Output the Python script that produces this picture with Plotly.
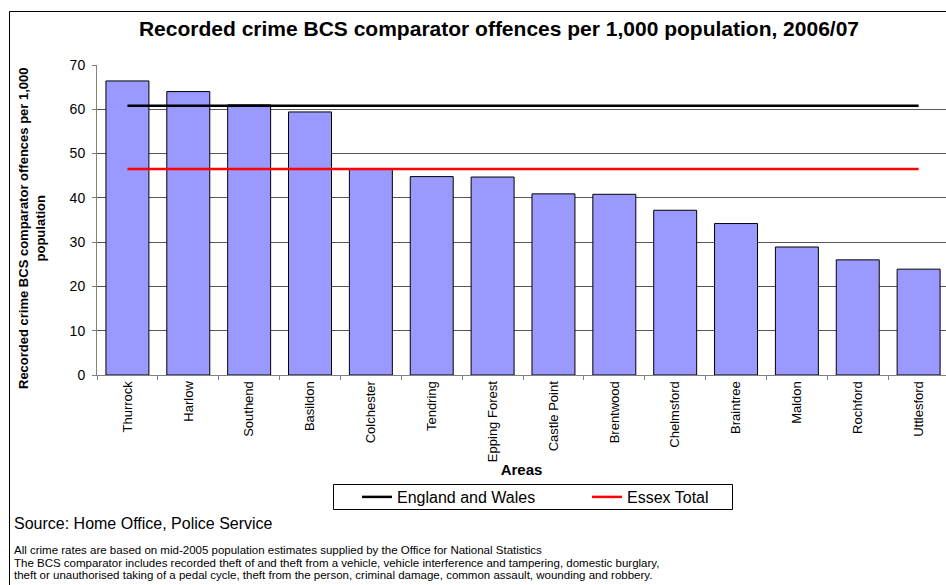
import plotly.graph_objects as go

# Recorded crime, BCS comparator offences per 1,000 population, 2006/07
areas = ["Thurrock", "Harlow", "Southend", "Basildon", "Colchester", "Tendring",
         "Epping Forest", "Castle Point", "Brentwood", "Chelmsford", "Braintree",
         "Maldon", "Rochford", "Uttlesford"]
rates = [66.4, 64.0, 61.0, 59.4, 46.5, 44.8, 44.7, 40.9, 40.8, 37.2, 34.2, 28.9, 26.0, 23.9]
england_wales = 60.8
essex_total = 46.5

W, H = 946, 585
ML, MR, MT, MB = 97, 0, 65, 210
PW, PH = W - ML - MR, H - MT - MB
FONT = "Liberation Sans, Arial, sans-serif"


def px_x(px):
    return (px - ML) / PW


def px_y(py):
    return (H - MB - py) / PH


fig = go.Figure()
fig.add_trace(go.Bar(
    x=areas, y=rates, showlegend=False,
    marker=dict(color="#9999FF", line=dict(color="#000000", width=1)),
))
fig.add_trace(go.Scatter(
    x=areas, y=[england_wales] * len(areas), mode="lines",
    name="England and Wales", line=dict(color="#000000", width=2.5),
))
fig.add_trace(go.Scatter(
    x=areas, y=[essex_total] * len(areas), mode="lines",
    name="Essex Total", line=dict(color="#FF0000", width=2.5),
))

fig.update_layout(
    width=W, height=H,
    margin=dict(l=ML, r=MR, t=MT, b=MB, pad=0),
    paper_bgcolor="white", plot_bgcolor="white",
    font=dict(family=FONT, color="#000000"),
    bargap=0.294,
    title=dict(
        text="Recorded crime BCS comparator offences per 1,000 population, 2006/07",
        font=dict(size=21, weight="bold", family=FONT),
        x=499 / W, xref="container", xanchor="center",
        y=1 - 29 / H, yref="container", yanchor="middle",
    ),
    xaxis=dict(
        type="category", range=[-0.5, 13.45],
        tickson="boundaries", ticks="outside", ticklen=4, tickcolor="#808080",
        showline=True, linecolor="#808080", linewidth=1,
        tickangle=-90, tickfont=dict(size=13),
        showgrid=False,
        title=dict(text="Areas", font=dict(size=15, weight="bold"), standoff=3),
    ),
    yaxis=dict(
        range=[0, 70], tickvals=[0, 10, 20, 30, 40, 50, 60, 70],
        ticks="outside", ticklen=4, tickcolor="#808080",
        showline=True, linecolor="#808080", linewidth=1,
        showgrid=True, gridcolor="#555555", gridwidth=1,
        tickfont=dict(size=14), ticklabelstandoff=4,
        zeroline=False,
    ),
    legend=dict(
        orientation="h", x=px_x(357), xanchor="left", y=px_y(480), yanchor="top",
        borderwidth=0, bgcolor="rgba(0,0,0,0)",
        font=dict(size=16), itemwidth=30, entrywidth=185,
    ),
)

# Legend frame
fig.add_shape(
    type="rect", xref="paper", yref="paper",
    x0=px_x(333.5), x1=px_x(732.5), y0=px_y(509.5), y1=px_y(484.5),
    line=dict(color="#000000", width=1), fillcolor="rgba(0,0,0,0)", layer="below",
)

# Rotated y-axis title across two lines
fig.add_annotation(
    text="Recorded crime BCS comparator offences per 1,000<br>population",
    xref="paper", yref="paper", x=px_x(32), y=px_y(228),
    xanchor="center", yanchor="middle", textangle=-90, showarrow=False,
    font=dict(size=13, weight="bold"),
)

# Source and notes
fig.add_annotation(
    text="Source: Home Office, Police Service",
    xref="paper", yref="paper", x=px_x(12), y=px_y(523),
    xanchor="left", yanchor="middle", showarrow=False, font=dict(size=16),
)
notes = [
    "All crime rates are based on mid-2005 population estimates supplied by the Office for National Statistics",
    "The BCS comparator includes recorded theft of and theft from a vehicle, vehicle interference and tampering, domestic burglary,",
    "theft or unauthorised taking of a pedal cycle, theft from the person, criminal damage, common assault, wounding and robbery.",
]
for i, line in enumerate(notes):
    fig.add_annotation(
        text=line, xref="paper", yref="paper", x=px_x(12), y=px_y(550 + 12.5 * i),
        xanchor="left", yanchor="middle", showarrow=False, font=dict(size=11.5),
    )

# Outer chart frame
fig.add_shape(
    type="rect", xref="paper", yref="paper",
    x0=px_x(9.5), x1=px_x(980), y0=px_y(620), y1=px_y(11.5),
    line=dict(color="#000000", width=1), fillcolor="rgba(0,0,0,0)", layer="above",
)

fig.write_html("out.html")
